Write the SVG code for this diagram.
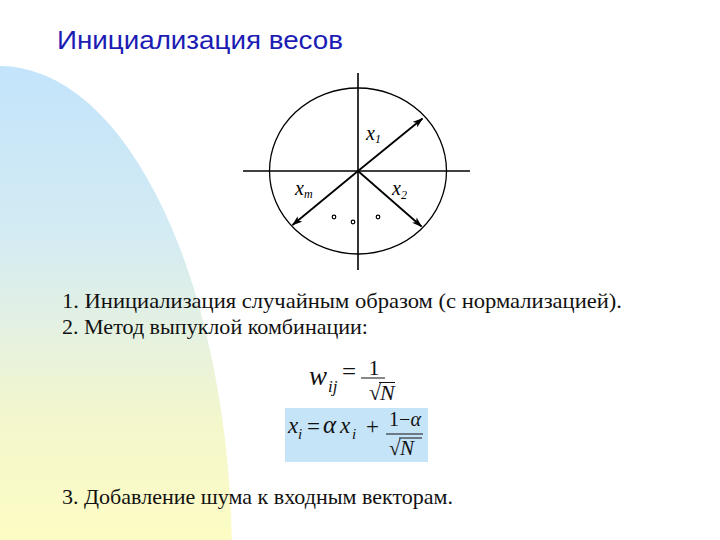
<svg xmlns="http://www.w3.org/2000/svg" width="720" height="540" viewBox="0 0 720 540">
<defs>
<linearGradient id="bg" gradientUnits="userSpaceOnUse" x1="0" y1="66" x2="0" y2="540">
<stop offset="0" stop-color="#c3e4fb"/>
<stop offset="0.35" stop-color="#d3ebf3"/>
<stop offset="0.55" stop-color="#e4f1e2"/>
<stop offset="0.75" stop-color="#f4f7cc"/>
<stop offset="1" stop-color="#fcfcc4"/>
</linearGradient>
<marker id="ah" viewBox="0 0 12 8" refX="11" refY="4" markerWidth="11" markerHeight="7" markerUnits="userSpaceOnUse" orient="auto">
<path d="M0,0 L12,4 L0,8 L3,4 Z" fill="#000"/>
</marker>
<style>
.title{font-family:"Liberation Sans",Arial,sans-serif;font-size:26px;fill:#1c1cb4}
.body{font-family:"Liberation Serif","Times New Roman",serif;font-size:21.5px;fill:#111}
.m{font-family:"Liberation Serif","Times New Roman",serif;fill:#111}
.it{font-style:italic}
.ax{stroke:#000;stroke-width:1.6;fill:none}
.vec{stroke:#000;stroke-width:1.8;fill:none;marker-end:url(#ah)}
.lbl{font-family:"Liberation Serif","Times New Roman",serif;font-style:italic;fill:#000}
</style>
</defs>
<rect width="720" height="540" fill="#fff"/>
<path d="M0,66 A232,494 0 0 1 232,560 L0,560 Z" fill="url(#bg)"/>
<text class="title" x="57" y="49" textLength="286" lengthAdjust="spacingAndGlyphs">Инициализация весов</text>

<g id="diagram">
<ellipse cx="358" cy="171" rx="88.5" ry="83" fill="none" stroke="#000" stroke-width="1.3"/>
<line class="ax" x1="358" y1="73" x2="358" y2="270"/>
<line class="ax" x1="243" y1="171" x2="470" y2="171"/>
<g id="connectors">
<line class="vec" x1="358" y1="171" x2="422.5" y2="118.5"/>
<line class="vec" x1="358" y1="171" x2="292.5" y2="225"/>
<line class="vec" x1="358" y1="171" x2="421.5" y2="226.5"/>
</g>
<g id="labels">
<text class="lbl" x="366" y="140" font-size="20">x<tspan font-size="12" dy="3">1</tspan></text>
<text class="lbl" x="295" y="195" font-size="20">x<tspan font-size="12" dy="3">m</tspan></text>
<text class="lbl" x="392" y="195" font-size="20">x<tspan font-size="12" dy="4">2</tspan></text>
</g>
<g id="dots" fill="#fff" stroke="#000" stroke-width="1.2">
<circle cx="334" cy="217" r="1.8"/>
<circle cx="353" cy="222" r="1.8"/>
<circle cx="378" cy="217" r="1.8"/>
</g>
</g>

<text class="body" x="62" y="308" textLength="560" lengthAdjust="spacingAndGlyphs">1. Инициализация случайным образом (с нормализацией).</text>
<text class="body" x="62" y="334" textLength="306" lengthAdjust="spacingAndGlyphs">2. Метод выпуклой комбинации:</text>

<g id="formula1">
<text class="m it" x="309" y="385" font-size="27">w</text>
<text class="m it" x="328" y="392" font-size="17">ij</text>
<text class="m" x="342" y="380" font-size="25">=</text>
<text class="m" x="374" y="375" font-size="22" text-anchor="middle">1</text>
<line x1="361" y1="378" x2="385" y2="378" stroke="#111" stroke-width="1"/>
<text class="m" x="369" y="400" font-size="22">√</text>
<text class="m it" x="380" y="400" font-size="22">N</text>
<line x1="379" y1="382.5" x2="395" y2="382.5" stroke="#111" stroke-width="1"/>
</g>

<g id="formula2">
<rect x="285" y="408" width="143" height="54" fill="#c6e4f8"/>
<text class="m it" x="288" y="433" font-size="23">x</text>
<text class="m it" x="298" y="439" font-size="15">i</text>
<text class="m" x="307" y="434" font-size="23">=</text>
<text class="m it" x="323" y="433" font-size="25">α</text>
<text class="m it" x="340" y="433" font-size="23">x</text>
<text class="m it" x="352" y="439" font-size="15">i</text>
<text class="m" x="366" y="434" font-size="23">+</text>
<text class="m" x="405" y="426" font-size="20" text-anchor="middle">1−<tspan font-style="italic">α</tspan></text>
<line x1="386" y1="434" x2="423" y2="434" stroke="#111" stroke-width="1"/>
<text class="m" x="389" y="455" font-size="21">√</text>
<text class="m it" x="400" y="455" font-size="21">N</text>
<line x1="399" y1="438" x2="422" y2="438" stroke="#111" stroke-width="1"/>
</g>

<text class="body" x="62" y="504" textLength="391" lengthAdjust="spacingAndGlyphs">3. Добавление шума к входным векторам.</text>
</svg>
